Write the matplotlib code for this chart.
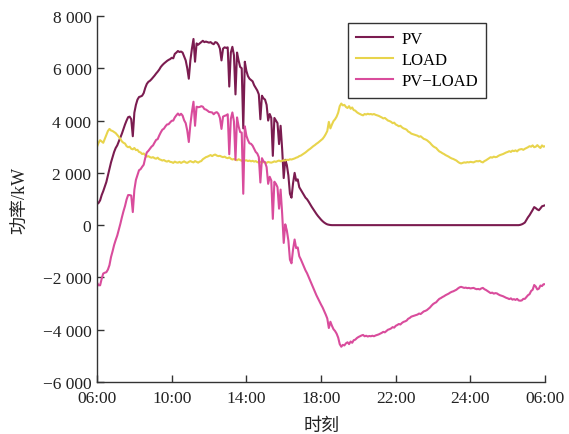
import numpy as np
import matplotlib
matplotlib.use("Agg")
import matplotlib.pyplot as plt

plt.rcParams["font.family"] = ["Liberation Serif", "Noto Sans CJK SC"]
plt.rcParams["axes.unicode_minus"] = True

# 5-minute samples from 06:00 to 06:00 next day (one row per hour)
pv = [
    800, 850, 950, 1150, 1300, 1480, 1650, 1900, 2150, 2400, 2600, 2800,          # 06
    2950, 3050, 3200, 3350, 3500, 3680, 3850, 4000, 4130, 4150, 4050, 3400,      # 07
    4300, 4600, 4800, 4900, 4920, 4950, 5050, 5250, 5400, 5480, 5520, 5580,      # 08
    5650, 5720, 5800, 5870, 5950, 6050, 6120, 6180, 6230, 6280, 6320, 6350,      # 09
    6400, 6380, 6550, 6600, 6660, 6620, 6640, 6600, 6450, 6300, 6000, 5600,      # 10
    6300, 6750, 7120, 6250, 6950, 6900, 6950, 7000, 7050, 7000, 7020, 7000,      # 11
    6980, 7000, 6950, 6920, 7000, 6980, 6900, 6750, 6300, 6750, 6800, 6780,      # 12
    6800, 5300, 6600, 6820, 6500, 5000, 6600, 6300, 6050, 6000, 3700, 6250,      # 13
    5900, 5700, 5600, 5550, 5500, 5350, 5250, 5150, 5000, 4050, 4950, 4850,      # 14
    4800, 4600, 4000, 4250, 4100, 2650, 4100, 4000, 3900, 3100, 3800, 2900,      # 15
    1800, 2500, 2300, 1900, 1200, 1050, 1600, 2000, 1700, 1750, 1450, 1350,      # 16
    1250, 1150, 1050, 990, 900, 800, 700, 610, 520, 430, 350, 280,               # 17
    210, 150, 100, 60, 30, 15, 5, 0, 0, 0, 0, 0,                                 # 18
    0, 0, 0, 0, 0, 0, 0, 0, 0, 0, 0, 0,                                          # 19
    0, 0, 0, 0, 0, 0, 0, 0, 0, 0, 0, 0,                                          # 20
    0, 0, 0, 0, 0, 0, 0, 0, 0, 0, 0, 0,                                          # 21
    0, 0, 0, 0, 0, 0, 0, 0, 0, 0, 0, 0,                                          # 22
    0, 0, 0, 0, 0, 0, 0, 0, 0, 0, 0, 0,                                          # 23
    0, 0, 0, 0, 0, 0, 0, 0, 0, 0, 0, 0,                                          # 00
    0, 0, 0, 0, 0, 0, 0, 0, 0, 0, 0, 0,                                          # 01
    0, 0, 0, 0, 0, 0, 0, 0, 0, 0, 0, 0,                                          # 02
    0, 0, 0, 0, 0, 0, 0, 0, 0, 0, 0, 0,                                          # 03
    0, 0, 0, 0, 0, 0, 0, 0, 10, 30, 60, 100,                                     # 04
    200, 300, 380, 480, 580, 690, 650, 600, 570, 640, 720, 740,                  # 05
    760,
]

load = [
    3000, 3150, 3250, 3200, 3150, 3300, 3450, 3600, 3680, 3620, 3600, 3560,      # 06
    3520, 3450, 3380, 3300, 3200, 3150, 3120, 3020, 2980, 3000, 2920, 2900,      # 07
    2950, 2870, 2880, 2800, 2780, 2720, 2740, 2680, 2620, 2640, 2600, 2580,      # 08
    2600, 2560, 2540, 2580, 2520, 2500, 2470, 2490, 2450, 2430, 2460, 2420,      # 09
    2410, 2380, 2430, 2400, 2390, 2420, 2380, 2410, 2440, 2400, 2380, 2420,      # 10
    2450, 2420, 2400, 2450, 2420, 2390, 2430, 2450, 2520, 2560, 2600, 2620,      # 11
    2650, 2680, 2640, 2680, 2700, 2660, 2640, 2650, 2620, 2600, 2620, 2580,      # 12
    2560, 2590, 2540, 2510, 2530, 2500, 2480, 2520, 2490, 2460, 2500, 2470,      # 13
    2480, 2450, 2470, 2440, 2460, 2430, 2450, 2410, 2400, 2420, 2390, 2410,      # 14
    2400, 2380, 2420, 2400, 2390, 2410, 2440, 2420, 2450, 2470, 2440, 2460,      # 15
    2480, 2470, 2500, 2490, 2520, 2510, 2530, 2550, 2580, 2600, 2640, 2660,      # 16
    2700, 2740, 2780, 2830, 2880, 2920, 2970, 3020, 3060, 3110, 3150, 3200,      # 17
    3250, 3300, 3380, 3480, 3600, 3950, 3700, 3850, 3980, 4050, 4150, 4300,      # 18
    4550, 4650, 4580, 4600, 4520, 4480, 4550, 4450, 4500, 4400, 4380, 4320,      # 19
    4280, 4250, 4220, 4200, 4250, 4230, 4260, 4240, 4250, 4230, 4250, 4220,      # 20
    4200, 4180, 4150, 4120, 4080, 4100, 4050, 4000, 3980, 3950, 3900, 3920,      # 21
    3850, 3820, 3780, 3800, 3740, 3700, 3680, 3650, 3580, 3550, 3500, 3480,      # 22
    3460, 3440, 3420, 3380, 3400, 3350, 3300, 3280, 3250, 3200, 3150, 3080,      # 23
    3020, 2980, 2950, 2880, 2820, 2790, 2750, 2720, 2680, 2650, 2620, 2580,      # 00
    2550, 2530, 2500, 2470, 2420, 2380, 2360, 2380, 2400, 2390, 2410, 2400,      # 01
    2420, 2410, 2400, 2430, 2450, 2440, 2460, 2420, 2400, 2450, 2480, 2520,      # 02
    2560, 2600, 2580, 2620, 2600, 2610, 2650, 2680, 2700, 2720, 2750, 2780,      # 03
    2800, 2830, 2800, 2850, 2830, 2860, 2820, 2880, 2900, 2910, 2880, 2920,      # 04
    2950, 2980, 3020, 3000, 3050, 2980, 3000, 3060, 3000, 2950, 3050, 3000,      # 05
    3020,
]

tick_hours = [6, 10, 14, 18, 22, 26, 30]
tick_labels = ["06:00", "10:00", "14:00", "18:00", "22:00", "24:00", "06:00"]
y_ticks = [-6000, -4000, -2000, 0, 2000, 4000, 6000, 8000]

pv = np.array(pv, dtype=float)
load = np.array(load, dtype=float)
hours = 6 + np.arange(len(pv)) * 5 / 60
net = pv - load

fig = plt.figure(figsize=(5.69, 4.35), dpi=100)
ax = fig.add_axes([0.1705, 0.1195, 0.7875, 0.8415])

ax.plot(hours, pv, color="#7b1c50", lw=1.5, label="PV")
ax.plot(hours, load, color="#e8d44c", lw=1.5, label="LOAD")
ax.plot(hours, net, color="#d94c9c", lw=1.5, label="PV\u2212LOAD")

ax.set_xlim(6, 30)
ax.set_ylim(-6000, 8000)
ax.set_xticks(tick_hours)
ax.set_xticklabels(tick_labels)
ax.set_yticks(y_ticks)
ax.set_yticklabels([f"{v:,}".replace(",", " ").replace("-", "\u2212") for v in y_ticks])

for side in ("top", "right"):
    ax.spines[side].set_visible(False)
for side in ("left", "bottom"):
    ax.spines[side].set_color("#333333")
    ax.spines[side].set_linewidth(1.0)
ax.tick_params(direction="in", length=5, width=1, color="#333333",
               labelsize=12.5, labelcolor="#222222")
ax.tick_params(axis="y", pad=4)
ax.tick_params(axis="x", pad=6)

ax.set_xlabel("时刻", fontsize=13, color="#222222", labelpad=8)
ax.set_ylabel("功率/kW", fontsize=13, color="#222222", labelpad=10)

leg = ax.legend(loc="upper left", bbox_to_anchor=(0.56, 0.981), fontsize=12,
                fancybox=False, framealpha=1, edgecolor="#333333",
                handlelength=2.2, handletextpad=0.5, labelspacing=0.3,
                borderpad=0.5, borderaxespad=0)
leg.get_frame().set_linewidth(1.0)

fig.savefig("out.png", dpi=100)
